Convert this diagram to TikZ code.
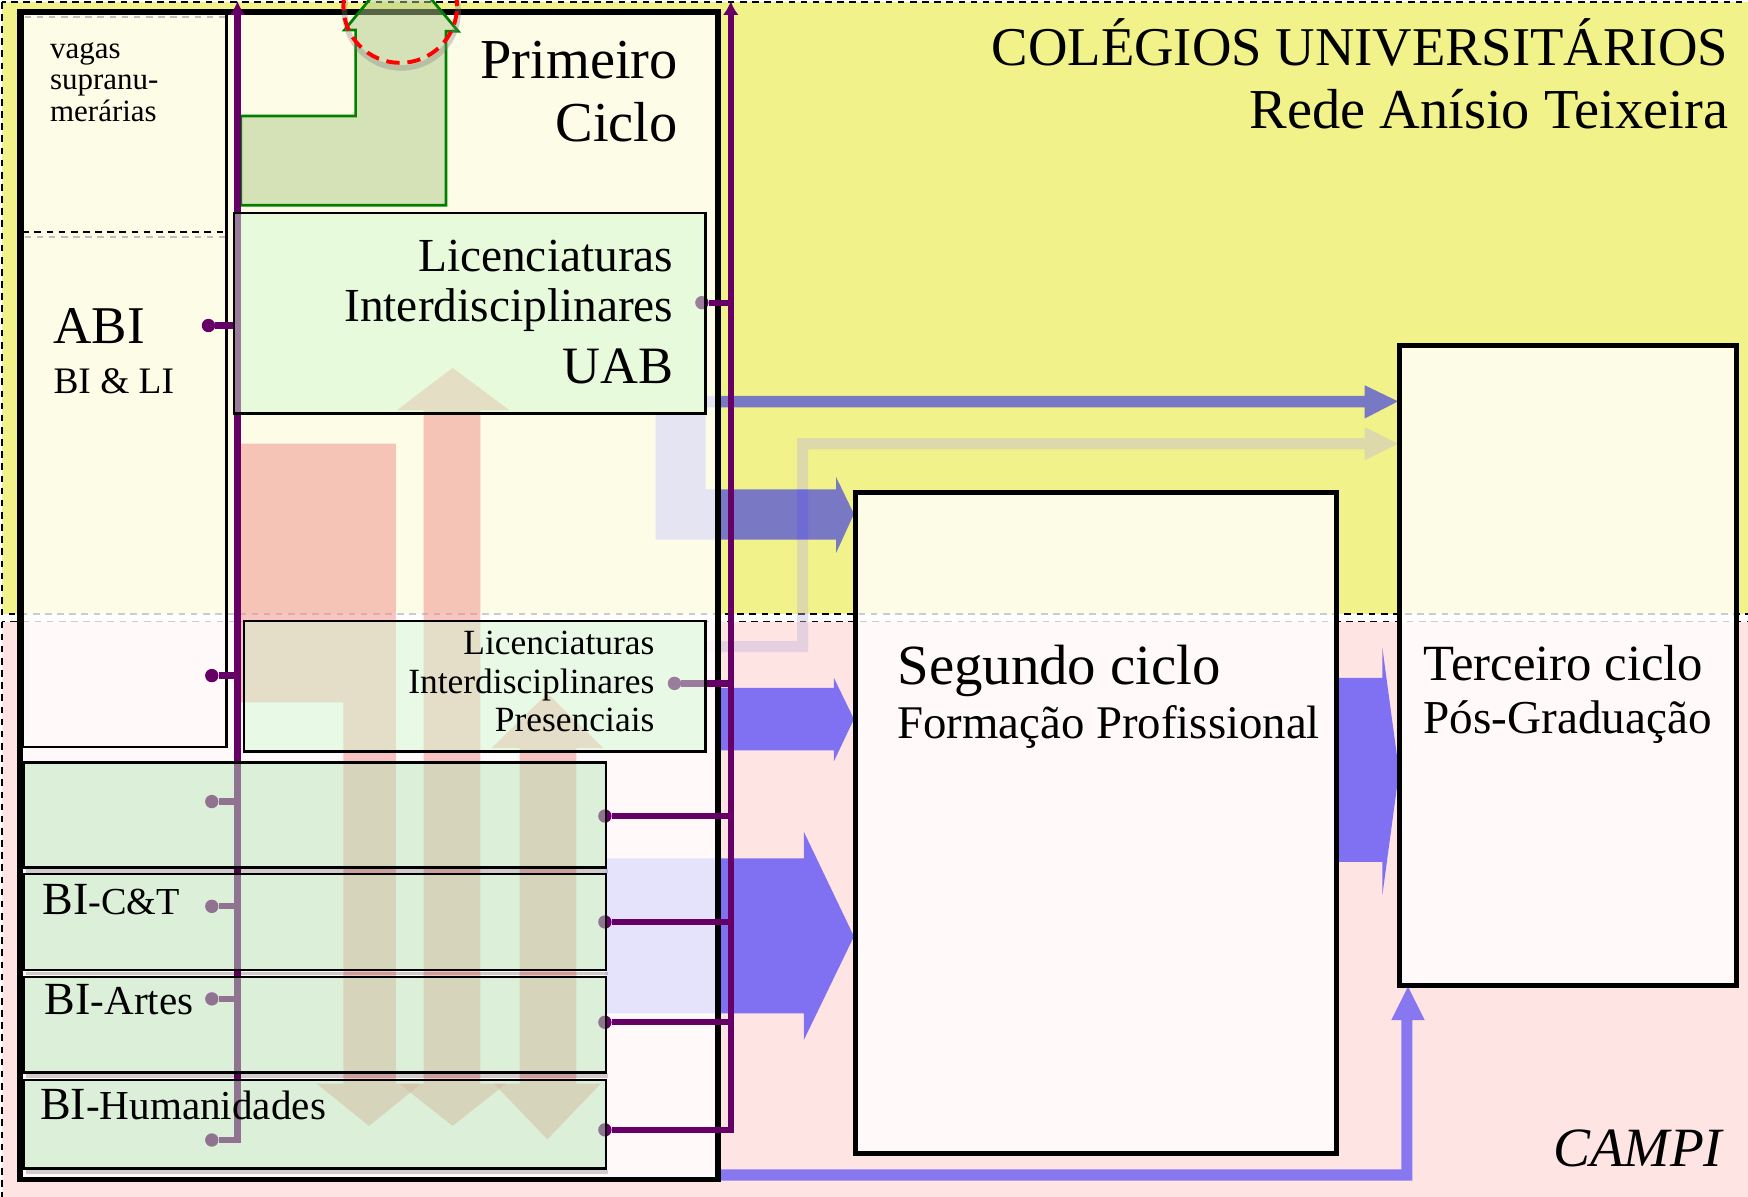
\documentclass[tikz,border=0pt]{standalone}
\usepackage{fontspec}
\setmainfont{Liberation Serif}
\usetikzlibrary{arrows.meta,fit}
\definecolor{bgyellow}{RGB}{242,242,138}
\definecolor{bgpink}{RGB}{255,228,228}
\definecolor{purp}{RGB}{102,0,102}
\definecolor{boxgreen}{RGB}{211,249,210}
\definecolor{bigreen}{RGB}{185,231,187}
\definecolor{salmon}{RGB}{241,141,134}
\definecolor{lgreen}{RGB}{175,201,138}
\definecolor{ggreen}{RGB}{0,128,0}
\definecolor{greyarr}{RGB}{190,180,220}
\newcommand\fsz[1]{\fontsize{#1}{#1}\selectfont}
\begin{document}
\begin{tikzpicture}[x=0.02cm,y=-0.02cm,
  region/.style={draw=black, line width=1pt, dash pattern=on 3.4pt off 2.8pt},
  cyclebox/.style={draw=black, fill=white, fill opacity=0.8, inner sep=0pt, outer sep=0pt},
  greenbox/.style={draw=black, line width=1.3pt, fill=boxgreen, fill opacity=0.5, inner sep=0pt, outer sep=0pt},
  bibox/.style={draw=black, line width=1.3pt, fill=bigreen, fill opacity=0.5, inner sep=0pt, outer sep=0pt},
  pline/.style={draw=purp, line width=3.2pt},
  pdot/.style={circle, fill=purp, minimum size=0.24cm, inner sep=0pt, outer sep=0pt},
  bluearr/.style={fill=blue, fill opacity=0.5},
  orarr/.style={fill=salmon, fill opacity=0.5},
  lbl/.style={inner sep=0pt, outer sep=0pt},
  tipup/.style={-{Latex[length=7pt,width=8pt]}}
]
\useasboundingbox (0,0) rectangle (1568,1073);
\clip (0,0) rectangle (1568,1073);
% background regions
\fill[bgyellow] (1.5,1.7) rectangle (1600,551);
\draw[region] (1.5,1.7) rectangle (1600,551);
\fill[bgpink] (1.5,557.5) rectangle (1600,1090);
\draw[region] (1.5,557.5) rectangle (1600,1090);

% blue and grey arrows (below box fills)
\fill[bluearr] (633,355) -- (1224,355) -- (1224,345.5) -- (1254,360) -- (1224,375.5) -- (1224,365.4) -- (633,365.4) -- cycle;
\fill[greyarr, fill opacity=0.4] (633,575) -- (715,575) -- (715,393) -- (1224,393) -- (1224,383) -- (1254,398) -- (1224,413) -- (1224,403) -- (725,403) -- (725,585) -- (633,585) -- cycle;
\fill[bluearr] (588,371) -- (633,371) -- (633,439) -- (750,439) -- (750,428) -- (766,461) -- (750,496) -- (750,484) -- (588,484) -- cycle;
\fill[bluearr] (644,617) -- (748,617) -- (748,608) -- (766,645) -- (748,683) -- (748,673) -- (644,673) -- cycle;
\fill[bluearr] (543,770) -- (721,770) -- (721,746) -- (766,840) -- (721,933) -- (721,909) -- (543,909) -- cycle;
\fill[bluearr] (1200,608) -- (1240,608) -- (1240,581) -- (1255,692) -- (1240,803) -- (1240,773) -- (1200,773) -- cycle;
\fill[bluearr, fill opacity=0.47] (644,1049) -- (1257,1049) -- (1257,915) -- (1248,915) -- (1263,885) -- (1278,915) -- (1267,915) -- (1267,1059) -- (644,1059) -- cycle;

% cycle boxes
\node[cyclebox, line width=2.85pt, fit={(18,11) (644,1058)}] (prim) {};
\node[cyclebox, line width=2.6pt, fit={(767,442) (1199,1035)}] (seg) {};
\node[cyclebox, line width=2.6pt, fit={(1255,310) (1558,884)}] (ter) {};
\node[draw=black, line width=1.4pt, inner sep=0pt, fit={(20,11) (203,670)}] (abicol) {};
\draw[black!25, line width=1.2pt, dash pattern=on 3.4pt off 2.8pt] (22,15) -- (202,15);
\draw[black!25, line width=1.2pt, dash pattern=on 3.4pt off 2.8pt] (22,212.6) -- (202,212.6);
\draw[black, line width=1.2pt, dash pattern=on 3.4pt off 2.8pt] (20,208) -- (203,208);

% orange arrows
\fill[orarr] (216,398) -- (355,398) -- (355,972) -- (378,972) -- (331,1010) -- (284,972) -- (308,972) -- (308,630) -- (216,630) -- cycle;
\fill[orarr] (380,368) -- (356,368) -- (406,330) -- (457,368) -- (431,368) -- (431,972) -- (454,972) -- (406,1010) -- (358,972) -- (380,972) -- cycle;
\fill[orarr] (466,671) -- (441,671) -- (491,622) -- (541,671) -- (517,671) -- (517,972) -- (539,972) -- (491,1022) -- (443,972) -- (466,972) -- cycle;

% green L-shaped arrow and dashed circle
\filldraw[fill=lgreen, fill opacity=0.5, draw=ggreen, line width=1.4pt] (216,104) -- (319,104) -- (319,27) -- (309,27) -- (359,-34) -- (411,28) -- (400,28) -- (400,184) -- (216,184) -- cycle;
\draw[gray, draw opacity=0.35, line width=2.8pt] (360,10) circle[radius=1.02cm];
\draw[red, line width=2pt, dash pattern=on 6.8pt off 4pt] (359,5.4) circle[radius=1.02cm];

% purple connectors
\node[pdot] (dabi) at (187,292) {};
\node[pdot] (dlow) at (190,606) {};
\node[pdot] (dbi1) at (190,719) {};
\node[pdot] (dbi2) at (190,813) {};
\node[pdot] (dbi3) at (190,896) {};
\node[pdot] (dbi4) at (190,1022.6) {};
\node[pdot] (duab) at (629.6,271.5) {};
\node[pdot] (dlip) at (605,613) {};
\node[pdot] (dr1) at (542.6,732) {};
\node[pdot] (dr2) at (542.6,827) {};
\node[pdot] (dr3) at (542.6,917) {};
\node[pdot] (dr4) at (542.6,1013.5) {};
\coordinate (ta) at (213,1);
\coordinate (tb) at (655.5,1);
\coordinate (ca) at (213,1022.6);
\coordinate (cb) at (655.5,1013.5);
\draw[pline, tipup] (dbi4) -- (ca) -- (ta);
\draw[pline, tipup] (dr4) -- (cb) -- (tb);
\draw[pline] (dabi) -- (213,292);
\draw[pline] (dlow) -- (213,606);
\draw[pline] (dbi1) -- (213,719);
\draw[pline] (dbi2) -- (213,813);
\draw[pline] (dbi3) -- (213,896);
\draw[pline] (duab) -- (655.5,271.5);
\draw[pline] (dlip) -- (655.5,613);
\draw[pline] (dr1) -- (655.5,732);
\draw[pline] (dr2) -- (655.5,827);
\draw[pline] (dr3) -- (655.5,917);

% green boxes
\node[greenbox, fit={(210,191) (633,371)}] (uab) {};
\node[greenbox, fit={(219,557) (633,674)}] (lip) {};
\fill[black, opacity=0.18] (23,779.5) rectangle (545,783);
\fill[black, opacity=0.18] (23,871.5) rectangle (545,875);
\fill[black, opacity=0.18] (23,963.5) rectangle (545,967);
\fill[black, opacity=0.18] (23,1049.5) rectangle (545,1053);
\node[bibox, fit={(21,684) (543.5,778)}] (bi0) {};
\node[bibox, fit={(21,784) (543.5,870)}] (bi1) {};
\node[bibox, fit={(21,876.5) (543.5,962)}] (bi2) {};
\node[bibox, fit={(21,968.6) (543.5,1048)}] (bi3) {};

% texts
\node[lbl, anchor=base east, font=\fsz{27.9}] (t1) at (1550,58.3) {COLÉGIOS UNIVERSITÁRIOS};
\node[lbl, anchor=base east, font=\fsz{28.8}] (t2) at (1550,115) {Rede Anísio Teixeira};
\node[lbl, anchor=base east, font=\fsz{28.8}] (p1) at (608,70.2) {Primeiro};
\node[lbl, anchor=base east, font=\fsz{28.8}] (p2) at (608,127) {Ciclo};
\node[lbl, anchor=base west, font=\fsz{15.8}] (v1) at (45,52.3) {vagas};
\node[lbl, anchor=base west, font=\fsz{15.8}] (v2) at (45,80.7) {supranu-};
\node[lbl, anchor=base west, font=\fsz{15.8}] (v3) at (45,109) {merárias};
\node[lbl, anchor=base west, font=\fsz{27.1}] (a1) at (48,308) {ABI};
\node[lbl, anchor=base west, font=\fsz{19.1}] (a2) at (48,353) {BI \& LI};
\node[lbl, anchor=base east, font=\fsz{24.2}] (u1) at (604,243.6) {Licenciaturas};
\node[lbl, anchor=base east, font=\fsz{24.2}] (u2) at (604,288.4) {Interdisciplinares};
\node[lbl, anchor=base east, font=\fsz{26.8}] (u3) at (604,343.7) {UAB};
\node[lbl, anchor=base east, font=\fsz{18.1}] (l1) at (587,587.5) {Licenciaturas};
\node[lbl, anchor=base east, font=\fsz{18.1}] (l2) at (587,621.8) {Interdisciplinares};
\node[lbl, anchor=base east, font=\fsz{18.1}] (l3) at (587,656) {Presenciais};
\node[lbl, anchor=base west, font=\fsz{29}] (s1) at (805,614) {Segundo ciclo};
\node[lbl, anchor=base west, font=\fsz{23.9}] (s2) at (805,662) {Formação Profissional};
\node[lbl, anchor=base west, font=\fsz{25.9}] (r1) at (1277,610) {Terceiro ciclo};
\node[lbl, anchor=base west, font=\fsz{24.1}] (r2) at (1277,657.7) {Pós-Graduação};
\node[lbl, anchor=base west] (b1) at (38,820) {\fsz{23.5}BI\fsz{19.5}-C\&T};
\node[lbl, anchor=base west] (b2) at (40,910) {\fsz{23.5}BI\fsz{21}-Artes};
\node[lbl, anchor=base west] (b3) at (36,1004.6) {\fsz{23.5}BI\fsz{21}-Humanidades};
\node[lbl, anchor=base east, font=\fsz{28.3}\itshape] (cp) at (1545,1046.5) {CAMPI};
\end{tikzpicture}
\end{document}
